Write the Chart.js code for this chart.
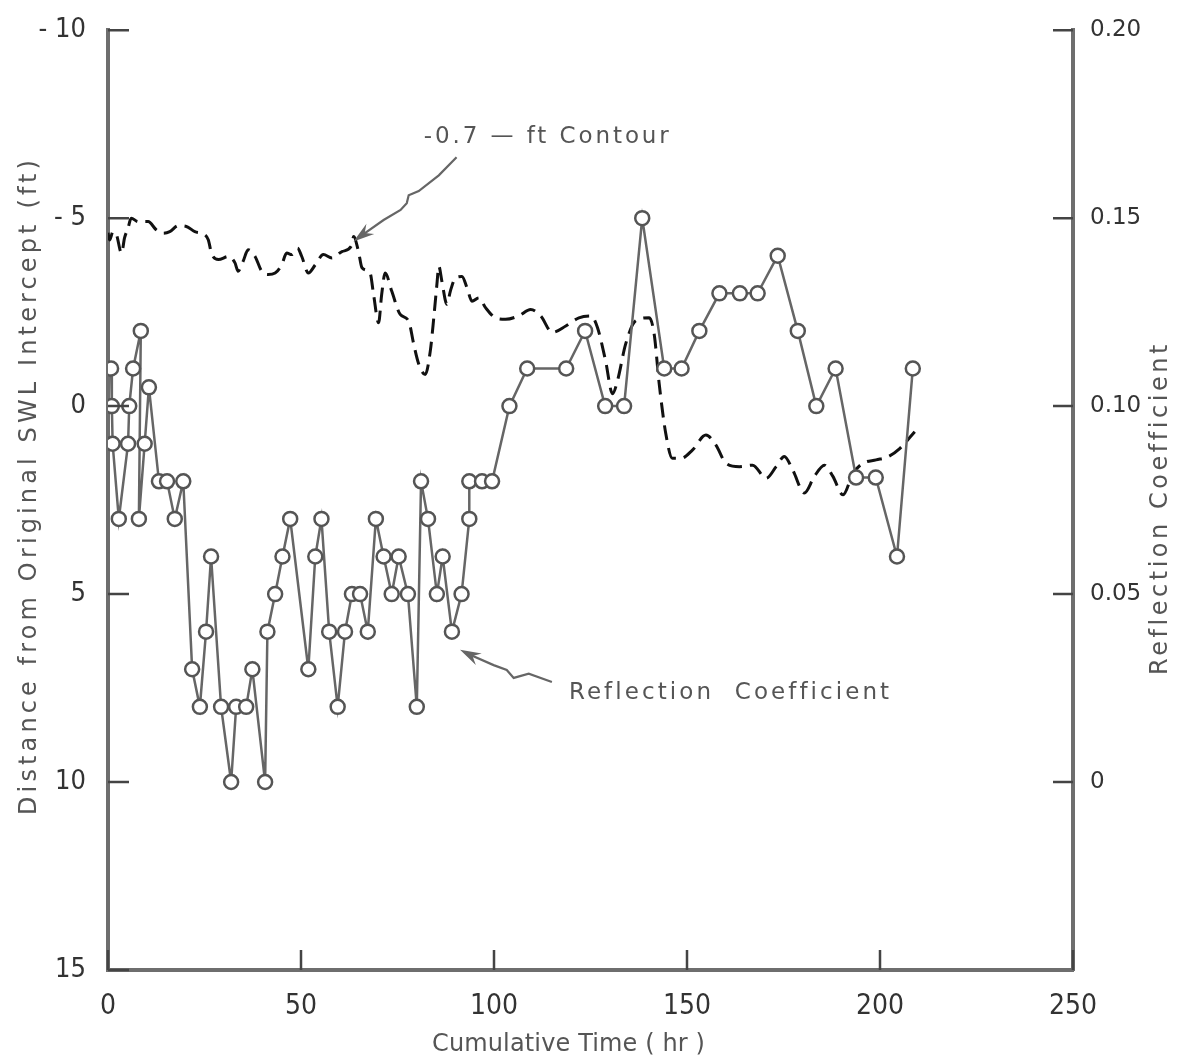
<!DOCTYPE html>
<html>
<head>
<meta charset="utf-8">
<script src="https://cdn.jsdelivr.net/npm/chart.js@4.4.1/dist/chart.umd.min.js"></script>
<style>
  html, body { margin: 0; padding: 0; background: #fff; }
  #wrap { width: 1179px; height: 1064px; }
</style>
</head>
<body>
<div id="wrap"><canvas id="swlChart" width="1179" height="1064"></canvas></div>
<script>
(function () {
  "use strict";

  // -0.7-ft contour: cumulative time (hr) vs distance from SWL intercept (ft)
  var contourTime = [0, 0.4, 1.3, 2.2, 3.5, 4.3, 5.2, 6.0, 7.8, 10.4,
    12.5, 14.3, 16.0, 18.2, 20.3, 22.5, 25.1, 26.0, 26.8, 28.6,
    31.2, 32.9, 33.7, 35.0, 36.3, 38.1, 39.8, 41.5, 43.3, 45.0,
    46.3, 47.6, 49.1, 50.2, 51.9, 53.7, 55.8, 58.0, 60.6, 63.2,
    63.6, 64.9, 65.8, 67.9, 68.8, 70.1, 70.9, 71.8, 73.5, 75.7,
    77.9, 79.2, 80.5, 82.2, 83.5, 84.4, 85.2, 85.7, 86.5, 87.8,
    88.7, 90.0, 91.7, 93.0, 94.3, 96.1, 97.8, 100.4, 103.0, 106.4,
    109.5, 112.1, 115.1, 118.6, 122.0, 125.1, 126.8, 128.9, 130.7, 132.0,
    134.1, 136.7, 140.2, 141.5, 142.8, 144.5, 146.2, 148.4, 151.4, 154.9,
    157.5, 160.1, 163.6, 167.0, 170.5, 173.1, 175.2, 177.4, 180.4, 183.0,
    185.6, 187.8, 190.4, 193.0, 195.6, 199.0, 202.0, 205.1, 209.0];
  var contourDepth = [-4.61, -4.42, -4.64, -4.56, -4.07, -4.48, -4.74, -5.00, -4.91, -4.91,
    -4.69, -4.60, -4.64, -4.80, -4.78, -4.64, -4.56, -4.42, -4.07, -3.90,
    -3.98, -3.81, -3.59, -3.85, -4.16, -3.98, -3.59, -3.50, -3.54, -3.76,
    -4.07, -4.03, -4.20, -3.98, -3.54, -3.76, -4.03, -3.94, -4.11, -4.29,
    -4.51, -4.11, -3.68, -3.54, -2.97, -2.22, -2.97, -3.54, -3.06, -2.44,
    -2.26, -1.65, -1.12, -0.84, -1.47, -2.35, -3.23, -3.72, -3.32, -2.71,
    -3.06, -3.41, -3.45, -3.15, -2.79, -2.88, -2.62, -2.35, -2.31, -2.40,
    -2.57, -2.40, -1.96, -2.13, -2.35, -2.40, -2.09, -1.21, -0.33, -0.68,
    -1.65, -2.27, -2.35, -1.91, -0.59, 0.73, 1.39, 1.39, 1.17, 0.77,
    1.04, 1.52, 1.61, 1.57, 1.92, 1.61, 1.34, 1.70, 2.31, 1.87,
    1.57, 1.87, 2.36, 1.79, 1.52, 1.43, 1.35, 1.13, 0.68];

  // reflection coefficient measurements
  var reflTime = [0.8, 1.0, 1.2, 2.8, 5.2, 5.5, 6.5, 8.5, 8.0, 9.5,
    10.6, 13.2, 15.3, 17.3, 19.5, 21.8, 23.8, 25.4, 26.7, 29.3,
    31.9, 33.2, 35.8, 37.4, 40.7, 41.3, 43.3, 45.2, 47.2, 51.9,
    53.7, 55.3, 57.3, 59.5, 61.4, 63.2, 65.3, 67.3, 69.4, 71.4,
    73.5, 75.3, 77.7, 80.0, 81.1, 82.9, 85.2, 86.7, 89.1, 91.6,
    93.6, 93.6, 96.9, 99.5, 104.0, 108.6, 118.7, 123.6, 128.8, 133.7,
    138.4, 144.1, 148.6, 153.2, 158.4, 163.7, 168.3, 173.5, 178.7, 183.5,
    188.5, 193.8, 198.9, 204.4, 208.5];
  var reflCoef = [0.11, 0.10, 0.09, 0.07, 0.09, 0.10, 0.11, 0.12, 0.07, 0.09,
    0.105, 0.08, 0.08, 0.07, 0.08, 0.03, 0.02, 0.04, 0.06, 0.02,
    0.00, 0.02, 0.02, 0.03, 0.00, 0.04, 0.05, 0.06, 0.07, 0.03,
    0.06, 0.07, 0.04, 0.02, 0.04, 0.05, 0.05, 0.04, 0.07, 0.06,
    0.05, 0.06, 0.05, 0.02, 0.08, 0.07, 0.05, 0.06, 0.04, 0.05,
    0.07, 0.08, 0.08, 0.08, 0.10, 0.11, 0.11, 0.12, 0.10, 0.10,
    0.15, 0.11, 0.11, 0.12, 0.13, 0.13, 0.13, 0.14, 0.12, 0.10,
    0.11, 0.081, 0.081, 0.06, 0.11];

  var timeTicks = [0, 50, 100, 150, 200, 250];
  var depthTicks = [-10, -5, 0, 5, 10, 15];
  var coefTicks = [0, 0.05, 0.10, 0.15, 0.20];

  // annotation layout (in axis units: hr, ft)
  var contourNote = { text: "-0.7 \u2014 ft Contour", t: 81.8, d: -7.0, w: 245 };
  var contourArrow = [[90.3, -6.62], [85.7, -6.14], [80.5, -5.72], [77.9, -5.61],
    [77.4, -5.40], [75.8, -5.22], [71.4, -4.95], [64.9, -4.48], [63.6, -4.38]];
  var reflNote = { text: "Reflection  Coefficient", t: 119.4, d: 7.8, w: 320 };
  var reflArrow = [[115.0, 7.34], [109.0, 7.12], [105.1, 7.23], [103.3, 7.02],
    [99.9, 6.89], [93.5, 6.60], [91.2, 6.48]];

  var FONT = "'DejaVu Sans', sans-serif";
  var NARROW = "'Liberation Sans Narrow', 'DejaVu Sans Condensed', 'DejaVu Sans', sans-serif";
  var AXIS_GREY = "#6e6e6e";

  function zip(xs, ys) {
    return xs.map(function (x, i) { return { x: x, y: ys[i] }; });
  }

  // draw text stretched by letter spacing to a given width
  function spacedText(ctx, text, x, y, width) {
    ctx.letterSpacing = "0px";
    var raw = ctx.measureText(text).width;
    var sp = (width - raw) / Math.max(1, text.length - 1);
    ctx.letterSpacing = sp.toFixed(2) + "px";
    ctx.fillText(text, x, y);
    ctx.letterSpacing = "0px";
  }

  function drawArrow(ctx, xs, ys, pts) {
    var p = pts.map(function (a) { return [xs.getPixelForValue(a[0]), ys.getPixelForValue(a[1])]; });
    ctx.beginPath();
    ctx.moveTo(p[0][0], p[0][1]);
    for (var i = 1; i < p.length - 1; i++) ctx.lineTo(p[i][0], p[i][1]);
    ctx.stroke();
    var a = p[p.length - 2], b = p[p.length - 1];
    var ang = Math.atan2(b[1] - a[1], b[0] - a[0]);
    ctx.beginPath();
    ctx.moveTo(b[0], b[1]);
    ctx.lineTo(b[0] - 22 * Math.cos(ang - 0.3), b[1] - 22 * Math.sin(ang - 0.3));
    ctx.lineTo(b[0] - 14 * Math.cos(ang), b[1] - 14 * Math.sin(ang));
    ctx.lineTo(b[0] - 22 * Math.cos(ang + 0.3), b[1] - 22 * Math.sin(ang + 0.3));
    ctx.closePath();
    ctx.fill();
  }

  var paperPlugin = {
    id: "paper",
    beforeDraw: function (chart) {
      var ctx = chart.ctx;
      ctx.save();
      ctx.fillStyle = "#fff";
      ctx.fillRect(0, 0, chart.width, chart.height);
      ctx.restore();
    },
    afterDraw: function (chart) {
      var ctx = chart.ctx, area = chart.chartArea;
      var xs = chart.scales.x, yl = chart.scales.y, yr = chart.scales.y2;
      ctx.save();

      // inward tick marks
      ctx.strokeStyle = "#444";
      ctx.lineWidth = 2.5;
      ctx.beginPath();
      depthTicks.forEach(function (v) {
        var py = yl.getPixelForValue(v);
        ctx.moveTo(area.left, py); ctx.lineTo(area.left + 21, py);
      });
      coefTicks.forEach(function (v) {
        var py = yr.getPixelForValue(v);
        ctx.moveTo(area.right - 20, py); ctx.lineTo(area.right, py);
      });
      timeTicks.forEach(function (t) {
        var px = xs.getPixelForValue(t);
        ctx.moveTo(px, area.bottom); ctx.lineTo(px, area.bottom - 20);
      });
      ctx.stroke();

      // annotations
      ctx.fillStyle = "#555";
      ctx.font = "23px " + FONT;
      ctx.textBaseline = "alphabetic";
      ctx.textAlign = "left";
      spacedText(ctx, contourNote.text, xs.getPixelForValue(contourNote.t), yl.getPixelForValue(contourNote.d), contourNote.w);
      spacedText(ctx, reflNote.text, xs.getPixelForValue(reflNote.t), yl.getPixelForValue(reflNote.d), reflNote.w);
      ctx.strokeStyle = "#666";
      ctx.fillStyle = "#666";
      ctx.lineWidth = 2.2;
      drawArrow(ctx, xs, yl, contourArrow);
      drawArrow(ctx, xs, yl, reflArrow);

      // axis titles
      ctx.fillStyle = "#555";
      ctx.font = "24px " + FONT;
      ctx.textBaseline = "middle";
      ctx.save();
      ctx.translate(30, 488);
      ctx.rotate(-Math.PI / 2);
      spacedText(ctx, "Distance from Original SWL Intercept (ft)", -327, 0, 655);
      ctx.restore();
      ctx.save();
      ctx.translate(1161, 510);
      ctx.rotate(-Math.PI / 2);
      spacedText(ctx, "Reflection Coefficient", -165, 0, 330);
      ctx.restore();
      spacedText(ctx, "Cumulative Time ( hr )", 432, 1045, 273);

      ctx.restore();
    }
  };

  var canvas = document.getElementById("swlChart");
  var ctx = canvas.getContext("2d");

  new Chart(ctx, {
    type: "line",
    data: {
      datasets: [
        {
          label: "-0.7-ft Contour",
          data: zip(contourTime, contourDepth),
          yAxisID: "y",
          order: 1,
          borderColor: "#111",
          borderWidth: 3,
          borderDash: [15, 8],
          pointRadius: 0,
          cubicInterpolationMode: "monotone",
          fill: false
        },
        {
          label: "Reflection Coefficient",
          data: zip(reflTime, reflCoef),
          yAxisID: "y2",
          order: 0,
          borderColor: "#666",
          borderWidth: 2.5,
          tension: 0,
          pointRadius: 7,
          pointBackgroundColor: "#fff",
          pointBorderColor: "#555",
          pointBorderWidth: 2.5,
          fill: false
        }
      ]
    },
    options: {
      responsive: false,
      animation: false,
      layout: { padding: { top: 24, left: 0, right: 0, bottom: 0 } },
      plugins: {
        legend: { display: false },
        tooltip: { enabled: false }
      },
      scales: {
        x: {
          type: "linear",
          min: 0,
          max: 250,
          grid: { display: false },
          border: { color: AXIS_GREY, width: 4 },
          ticks: {
            stepSize: 50,
            padding: 12,
            color: "#333",
            font: { family: NARROW, size: 28 }
          },
          afterFit: function (s) { s.height = 94; }
        },
        y: {
          position: "left",
          reverse: true,
          min: -10,
          max: 15,
          grid: { display: false },
          border: { color: AXIS_GREY, width: 4 },
          ticks: {
            stepSize: 5,
            padding: 14,
            color: "#333",
            font: { family: NARROW, size: 27 },
            callback: function (v) { return v < 0 ? "- " + Math.abs(v) : String(v); }
          },
          afterFit: function (s) { s.width = 108; }
        },
        y2: {
          position: "right",
          min: -0.05,
          max: 0.20,
          grid: { display: false },
          border: { color: AXIS_GREY, width: 4 },
          ticks: {
            stepSize: 0.05,
            padding: 9,
            color: "#333",
            font: { family: FONT, size: 23 },
            callback: function (v) {
              if (v < -0.001) return "";
              if (Math.abs(v) < 1e-9) return "0";
              return v.toFixed(2);
            }
          },
          afterFit: function (s) { s.width = 106; }
        }
      }
    },
    plugins: [paperPlugin]
  });
})();
</script>
</body>
</html>
